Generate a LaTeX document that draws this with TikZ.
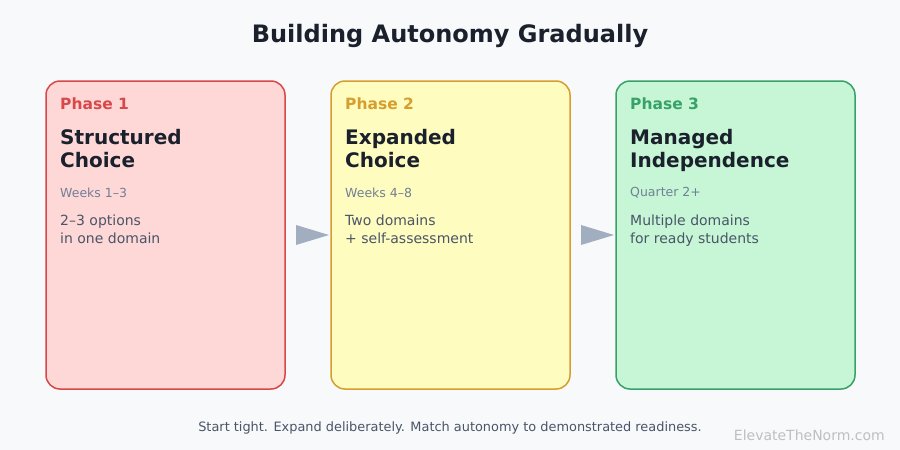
\documentclass[tikz,border=0pt]{standalone}
\usepackage{fontspec}
\setmainfont{DejaVu Sans}
\begin{document}
\definecolor{bg}{HTML}{F8F9FB}
\definecolor{r1}{HTML}{FED7D7}\definecolor{r2}{HTML}{D94848}
\definecolor{y1}{HTML}{FEFCBF}\definecolor{y2}{HTML}{D69E2E}
\definecolor{g1}{HTML}{C6F6D5}\definecolor{g2}{HTML}{38A169}
\definecolor{ink}{HTML}{1A202C}\definecolor{sub}{HTML}{718096}
\definecolor{desc}{HTML}{4A5568}\definecolor{arr}{HTML}{A0AEC0}
\begin{tikzpicture}[x=1pt,y=-1pt,
  box/.style={draw,line width=1.5pt,rounded corners=14pt},
  ph/.style={anchor=west,font=\bfseries\fontsize{15.5}{17}\selectfont,inner sep=0},
  ttl/.style={anchor=north west,align=left,text=ink,font=\bfseries\fontsize{20}{23}\selectfont,inner sep=0},
  wk/.style={anchor=west,text=sub,font=\fontsize{12.5}{14}\selectfont,inner sep=0},
  ds/.style={anchor=north west,align=left,text=desc,font=\fontsize{14}{18}\selectfont,inner sep=0},
  tri/.style={fill=arr}]
\fill[bg] (0,0) rectangle (900,450);
\useasboundingbox (0,0) rectangle (900,450);
\node[text=ink,font=\bfseries\fontsize{24}{28}\selectfont] (title) at (450,36) {Building Autonomy Gradually};
\foreach \i/\x/\f/\s/\p/\t/\w/\d in {
 1/46/r1/r2/Phase 1/{Structured\\Choice}/Weeks 1–3/{2–3 options\\in one domain},
 2/331/y1/y2/Phase 2/{Expanded\\Choice}/Weeks 4–8/{Two domains\\+ self-assessment},
 3/616/g1/g2/Phase 3/{Managed\\Independence}/Quarter 2+/{Multiple domains\\for ready students}}{
 \draw[box,fill=\f,draw=\s] (\x,81) rectangle ++(239,308);
 \node[ph,text=\s] (p\i) at (\x+14,104) {\p};
 \node[ttl] (t\i) at (\x+14,129) {\t};
 \node[wk] (w\i) at (\x+14,193) {\w};
 \node[ds] (d\i) at (\x+14,215) {\d};
}
\coordinate (a1) at (296,235); \coordinate (a2) at (581,235);
\fill[tri] (a1) ++(0,-10) -- ++(33,10) -- ++(-33,10) -- cycle;
\fill[tri] (a2) ++(0,-10) -- ++(33,10) -- ++(-33,10) -- cycle;
\node[text=desc,font=\fontsize{12.9}{15}\selectfont] (foot) at (450,428) {Start tight. Expand deliberately. Match autonomy to demonstrated readiness.};
\node[anchor=east,text=black!25,font=\fontsize{14}{16}\selectfont,inner sep=0] (wm) at (885,435) {ElevateTheNorm.com};
\end{tikzpicture}
\end{document}
